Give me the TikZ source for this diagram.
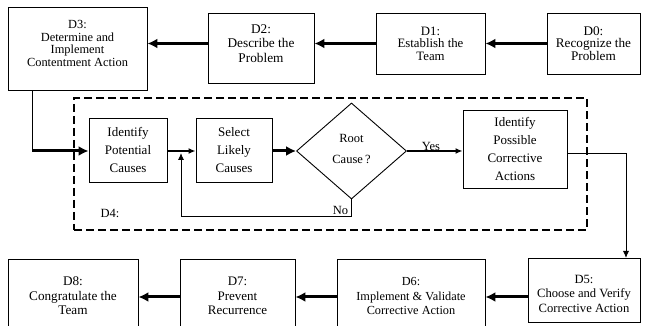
\documentclass[tikz,border=0pt]{standalone}
\usepackage{fontspec}
\setmainfont{Liberation Serif}
\usetikzlibrary{arrows.meta,shapes.geometric}
\begin{document}
\begin{tikzpicture}[x=1pt,y=-1pt,
  box/.style={draw, line width=0.9pt, inner sep=0pt},
  txt/.style={align=center, inner sep=0pt},
  itxt/.style={align=center, font=\fontsize{13}{18}\selectfont, inner sep=0pt},
  lbl/.style={font=\fontsize{12.5}{14}\selectfont, inner sep=0pt},
  bigarrow/.style={line width=3pt, -{Latex[length=10pt,width=10pt]}},
  midarrow/.style={line width=2pt, -{Latex[length=7pt,width=6pt]}},
  smallarrow/.style={line width=0.9pt, -{Latex[length=7pt,width=6pt]}},
  plainline/.style={line width=0.9pt},
  dashbox/.style={draw, line width=2.2pt, dash pattern=on 8pt off 4pt}
]
\useasboundingbox (0,0) rectangle (649,326);

% top row
\node[box, minimum width=93pt, minimum height=61pt] (d0) at (593.5,43.5) {};
\node[txt, font=\fontsize{13.2}{12.5}\selectfont] (d0t) at (593.5,43.5) {D0:\\Recognize the\\Problem};
\node[box, minimum width=109pt, minimum height=61pt] (d1) at (430.5,43.5) {};
\node[txt, font=\fontsize{12.8}{12.5}\selectfont] (d1t) at (430.5,43.5) {D1:\\Establish the\\Team};
\node[box, minimum width=106pt, minimum height=70pt] (d2) at (261,48) {};
\node[txt, font=\fontsize{13.3}{14.5}\selectfont] (d2t) at (261,43.5) {D2:\\Describe the\\Problem};
\node[box, minimum width=139pt, minimum height=83pt] (d3) at (77.5,48.5) {};
\node[txt, font=\fontsize{12.4}{12.5}\selectfont] (d3t) at (77.5,43.5) {D3:\\Determine and\\Implement\\Contentment Action};

\coordinate (ya) at (0,43.5);
\draw[bigarrow] (d0.west |- ya) -- (d1.east |- ya);
\draw[bigarrow] (d1.west |- ya) -- (d2.east |- ya);
\draw[bigarrow] (d2.west |- ya) -- (d3.east |- ya);

% D4 region
\node[dashbox, minimum width=513pt, minimum height=132pt, inner sep=0pt] (d4) at (330.5,164) {};
\node[lbl] (d4t) at (110,213) {D4:};

\node[box, minimum width=78pt, minimum height=64pt] (ipc) at (128,150) {};
\node[itxt] (ipct) at (128,150) {Identify\\Potential\\Causes};
\node[box, minimum width=76pt, minimum height=64pt] (slc) at (234,150) {};
\node[itxt] (slct) at (234,150) {Select\\Likely\\Causes};
\node[draw, diamond, line width=0.9pt, minimum width=110pt, minimum height=96pt, inner sep=0pt, aspect=1.15] (dia) at (351.5,151) {};
\node[align=center, font=\fontsize{12.5}{21}\selectfont, inner sep=0pt] (diat) at (351.5,148.5) {Root\\Cause\,?};
\node[box, minimum width=104pt, minimum height=78pt] (ipca) at (515,149) {};
\node[itxt] (ipcat) at (515,149) {Identify\\Possible\\Corrective\\Actions};

\coordinate (c1) at (32,151);
\draw[plainline] (d3.south -| c1) -- (c1);
\draw[bigarrow] (c1) -- (ipc.west |- c1);

\coordinate (ym) at (0,151);
\draw[midarrow] (ipc.east |- ym) -- (slc.west |- ym);
\draw[bigarrow] (slc.east |- ym) -- (dia.west);
\draw[midarrow] (dia.east) -- (ipca.west |- ym);
\node[lbl] (yes) at (431,146) {Yes};

\coordinate (nob) at (351.5,216);
\coordinate (noj) at (181,153);
\draw[smallarrow] (dia.south) -- (nob) -| (noj);
\node[lbl] (no) at (340.5,210) {No};

\coordinate (c2) at (626,153);
\draw[smallarrow] (ipca.east |- c2) -- (c2) -- (c2 |- 0,258);

% bottom row
\node[box, minimum width=112pt, minimum height=64pt] (d5) at (584,290) {};
\node[txt, font=\fontsize{12.6}{14.5}\selectfont] (d5t) at (584,293.5) {D5:\\Choose and Verify\\Corrective Action};
\node[box, minimum width=148pt, minimum height=71pt] (d6) at (411,294.5) {};
\node[txt, font=\fontsize{12.3}{14.5}\selectfont] (d6t) at (411,296) {D6:\\Implement \& Validate\\Corrective Action};
\node[box, minimum width=115pt, minimum height=71pt] (d7) at (237.5,294.5) {};
\node[txt, font=\fontsize{13}{14.5}\selectfont] (d7t) at (237.5,296) {D7:\\Prevent\\Recurrence};
\node[box, minimum width=130pt, minimum height=71pt] (d8) at (73,294.5) {};
\node[txt, font=\fontsize{13.2}{14.5}\selectfont] (d8t) at (73,296) {D8:\\Congratulate the\\Team};

\coordinate (yb) at (0,297);
\draw[bigarrow] (d5.west |- yb) -- (d6.east |- yb);
\draw[bigarrow] (d6.west |- yb) -- (d7.east |- yb);
\draw[bigarrow] (d7.west |- yb) -- (d8.east |- yb);
\end{tikzpicture}
\end{document}
